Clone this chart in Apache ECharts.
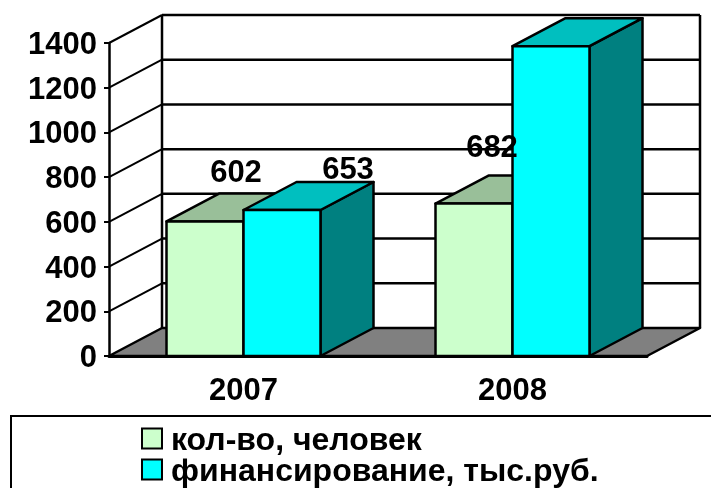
<!DOCTYPE html>
<html>
<head>
<meta charset="utf-8">
<style>
  html, body { margin: 0; padding: 0; background: #fff; }
  #chart { width: 711px; height: 488px; }
</style>
<script src="https://cdn.jsdelivr.net/npm/echarts@6/dist/echarts.min.js"></script>
</head>
<body>
<div id="chart"></div>
<script>
var categories = ["2007", "2008"];
var peopleName = "кол-во, человек";
var fundingName = "финансирование, тыс.руб.";
var peopleValues = [602, 682];
var fundingValues = [653, 1386];
var yTicks = [0, 200, 400, 600, 800, 1000, 1200, 1400];

// подписи стоят вручную, как в исходной диаграмме: [dx, dy] от верха столбца, null - нет подписи
var peopleLabelShift = [[31, -48], [18, -55]];
var fundingLabelShift = [[66, -40], null];

var FONT = '"Liberation Sans", Arial, sans-serif';
var DEPTH_X = 53;
var DEPTH_Y = 28;
var BAR_W = 77;

var chart = echarts.init(document.getElementById("chart"), null, { renderer: "canvas" });

function line(x1, y1, x2, y2, w) {
  return {
    type: "line",
    shape: { x1: x1, y1: y1, x2: x2, y2: y2 },
    style: { stroke: "#000", lineWidth: w },
  };
}

function poly(points, fill) {
  return {
    type: "polygon",
    shape: { points: points },
    style: { fill: fill, stroke: "#000", lineWidth: 2.5, lineJoin: "round" },
  };
}

// стены и пол
function renderWall(params, api) {
  var box = params.coordSys;
  var y = api.coord([0, api.value(1)])[1];
  var left = box.x;
  var right = box.x + box.width;
  var kids = [];
  if (api.value(1) === 0) {
    kids.push(poly([
      [left, y],
      [right, y],
      [right + DEPTH_X, y - DEPTH_Y],
      [left + DEPTH_X, y - DEPTH_Y],
    ], "#808080"));
    kids.push(line(left + DEPTH_X, y - DEPTH_Y, left + DEPTH_X, box.y - DEPTH_Y, 2.5));
    kids.push(line(right + DEPTH_X, y - DEPTH_Y, right + DEPTH_X, box.y - DEPTH_Y, 2.5));
  } else {
    kids.push(line(left, y, left + DEPTH_X, y - DEPTH_Y, 2));
    kids.push(line(left + DEPTH_X, y - DEPTH_Y, right + DEPTH_X, y - DEPTH_Y, 2.5));
  }
  return { type: "group", children: kids };
}

// столбец из трех граней; seriesPos 0 - левый, 1 - правый в группе
function barRenderer(seriesPos, front, top, side) {
  return function (params, api) {
    var p = api.coord([api.value(0), api.value(1)]);
    var base = api.coord([api.value(0), 0]);
    var x = p[0] - BAR_W + seriesPos * BAR_W;
    var r = x + BAR_W;
    var dx = DEPTH_X;
    var dy = DEPTH_Y;
    return {
      type: "group",
      children: [
        poly([[r, base[1]], [r + dx, base[1] - dy], [r + dx, p[1] - dy], [r, p[1]]], side),
        poly([[x, p[1]], [r, p[1]], [r + dx, p[1] - dy], [x + dx, p[1] - dy]], top),
        poly([[x, base[1]], [r, base[1]], [r, p[1]], [x, p[1]]], front),
      ],
    };
  };
}

function renderLabel(params, api) {
  var p = api.coord([api.value(0), api.value(1)]);
  var center = seriesCenter(api.value(2));
  return {
    type: "text",
    style: {
      text: String(api.value(1)),
      x: p[0] + center + api.value(3),
      y: p[1] + api.value(4),
      textAlign: "center",
      textVerticalAlign: "middle",
      fill: "#000",
      font: "bold 31px " + FONT,
    },
  };
}

function seriesCenter(pos) {
  return (pos - 0.5) * BAR_W;
}

function labelRows(values, shifts, pos) {
  var rows = [];
  values.forEach(function (v, i) {
    if (shifts[i]) rows.push([i, v, pos, shifts[i][0], shifts[i][1]]);
  });
  return rows;
}

function barRows(values) {
  return values.map(function (v, i) {
    return [i, v];
  });
}

var option = {
  animation: false,
  backgroundColor: "#fff",
  grid: { left: 109, right: 64, top: 43, bottom: 132 },
  xAxis: {
    type: "category",
    data: categories,
    axisLine: { lineStyle: { color: "#000", width: 3 } },
    axisTick: { length: 6, lineStyle: { color: "#000", width: 2 } },
    axisLabel: { color: "#000", fontFamily: FONT, fontWeight: "bold", fontSize: 31, margin: 20 },
  },
  yAxis: {
    type: "value",
    min: 0,
    max: 1400,
    interval: 200,
    splitLine: { show: false },
    axisLine: { show: true, lineStyle: { color: "#000", width: 2.5 } },
    axisTick: { show: true, length: 5, lineStyle: { color: "#000", width: 2 } },
    axisLabel: {
      margin: 12,
      formatter: function (v) {
        return "{v|" + v + "}";
      },
      rich: {
        v: {
          color: "#000",
          fontFamily: FONT,
          fontWeight: "bold",
          fontSize: 31,
          padding: [5, 0, 0, 0],
        },
      },
    },
  },
  legend: {
    left: 136,
    top: 420,
    height: 120,
    orient: "vertical",
    selectedMode: false,
    data: [peopleName, fundingName],
    itemWidth: 20,
    itemHeight: 20,
    itemGap: -1,
    icon: "rect",
    itemStyle: { borderColor: "#000", borderWidth: 2 },
    formatter: function (name) {
      return "{t|" + name + "}";
    },
    textStyle: {
      rich: {
        t: {
          color: "#000",
          fontFamily: FONT,
          fontWeight: "bold",
          fontSize: 32,
          padding: [5, 0, 0, 4],
        },
      },
    },
  },
  graphic: [
    {
      type: "rect",
      z: 0,
      shape: { x: 11, y: 416, width: 720, height: 100 },
      style: { fill: "#fff", stroke: "#000", lineWidth: 2 },
    },
  ],
  series: [
    {
      name: "walls",
      type: "custom",
      data: yTicks.map(function (t) {
        return [0, t];
      }),
      renderItem: renderWall,
      z: 1,
      silent: true,
    },
    {
      name: peopleName,
      type: "custom",
      data: barRows(peopleValues),
      itemStyle: { color: "#CCFFCC" },
      renderItem: barRenderer(0, "#CCFFCC", "#99BF99", "#668066"),
      z: 2,
    },
    {
      name: fundingName,
      type: "custom",
      data: barRows(fundingValues),
      itemStyle: { color: "#00FFFF" },
      renderItem: barRenderer(1, "#00FFFF", "#00BFBF", "#008080"),
      z: 3,
    },
    {
      name: "labels",
      type: "custom",
      data: labelRows(peopleValues, peopleLabelShift, 0).concat(labelRows(fundingValues, fundingLabelShift, 1)),
      renderItem: renderLabel,
      z: 4,
      silent: true,
    },
  ],
};

chart.setOption(option);
</script>
</body>
</html>
